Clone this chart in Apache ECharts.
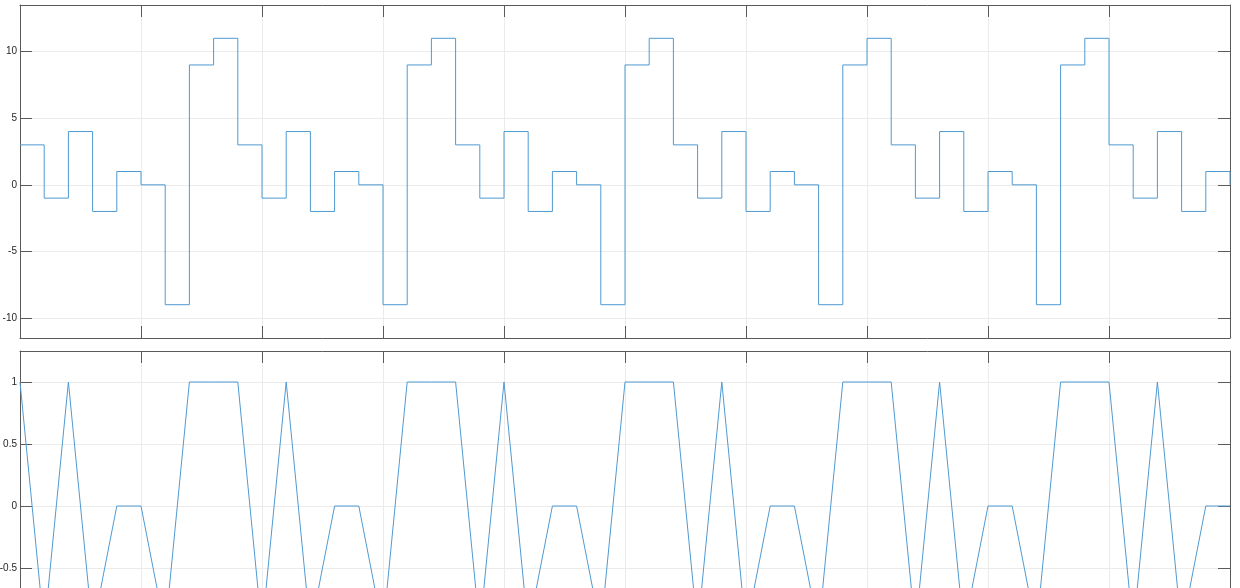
<!DOCTYPE html>
<html>
<head>
<meta charset="utf-8">
<script src="https://cdn.jsdelivr.net/npm/echarts@6/dist/echarts.min.js"></script>
<style>
html,body{margin:0;padding:0;background:#fff;}
#chart{width:1240px;height:588px;}
</style>
</head>
<body>
<div id="chart"></div>
<script>
// sample index (x positions)
var sampleIndex = [0,1,2,3,4,5,6,7,8,9,10,11,12,13,14,15,16,17,18,19,20,21,22,23,24,25,26,27,28,29,30,31,32,33,34,35,36,37,38,39,40,41,42,43,44,45,46,47,48,49,50];
// top panel: stairs signal
var topValues = [3,-1,4,-2,1,0,-9,9,11,
                 3,-1,4,-2,1,0,-9,9,11,
                 3,-1,4,-2,1,0,-9,9,11,
                 3,-1,4,-2,1,0,-9,9,11,
                 3,-1,4,-2,1,0,-9,9,11,
                 3,-1,4,-2,1,0];
// bottom panel: line signal
var bottomValues = [1,-1,1,-1,0,0,-1,1,1,
                    1,-1,1,-1,0,0,-1,1,1,
                    1,-1,1,-1,0,0,-1,1,1,
                    1,-1,1,-1,0,0,-1,1,1,
                    1,-1,1,-1,0,0,-1,1,1,
                    1,-1,1,-1,0,0];
var xTicks = [0,5,10,15,20,25,30,35,40,45,50];
var topRange = [-11.5, 13.5];
var bottomRange = [-1.25, 1.25];

function pairs(vals){ return vals.map(function(v,i){ return [sampleIndex[i], v]; }); }

var axisCol = '#5a5a5a';
var gridCol = '#ebebeb';
var lineCol = '#4f9ad2';
var lblStyle = {color:'#262626', fontSize:10, fontFamily:'Liberation Sans, Arial, sans-serif', margin:3};

function xAx(gi, pos){
  return {type:'value', gridIndex:gi, position:pos, min:xTicks[0], max:xTicks[xTicks.length-1], interval:5,
    axisLine:{show:true, onZero:false, lineStyle:{color:axisCol, width:1}},
    axisTick:{show:true, inside:true, length:12, lineStyle:{color:axisCol}},
    axisLabel:{show:false},
    splitLine:{show:pos==='bottom', lineStyle:{color:gridCol, width:1}}};
}
function yAx(gi, pos, range){
  return {type:'value', gridIndex:gi, position:pos, min:range[0], max:range[1], splitNumber:5,
    axisLine:{show:true, onZero:false, lineStyle:{color:axisCol, width:1}},
    axisTick:{show:true, inside:true, length:12, lineStyle:{color:axisCol}},
    axisLabel:Object.assign({show:pos==='left', showMinLabel:false, showMaxLabel:false}, lblStyle),
    splitLine:{show:pos==='left', lineStyle:{color:gridCol, width:1}}};
}

var chart = echarts.init(document.getElementById('chart'), null, {renderer:'canvas'});
chart.setOption({
  animation:false,
  backgroundColor:'#ffffff',
  grid:[
    {left:20, top:5, width:1210, height:333, containLabel:false, outerBoundsMode:'none'},
    {left:20, top:351, width:1210, height:310, containLabel:false, outerBoundsMode:'none'}
  ],
  xAxis:[xAx(0,'bottom'), xAx(0,'top'), xAx(1,'bottom'), xAx(1,'top')],
  yAxis:[yAx(0,'left',topRange), yAx(0,'right',topRange), yAx(1,'left',bottomRange), yAx(1,'right',bottomRange)],
  series:[
    {type:'line', xAxisIndex:0, yAxisIndex:0, step:'end', data:pairs(topValues), showSymbol:false, symbol:'none',
     lineStyle:{color:lineCol, width:1}, clip:true},
    {type:'line', xAxisIndex:2, yAxisIndex:2, data:pairs(bottomValues), showSymbol:false, symbol:'none',
     lineStyle:{color:lineCol, width:1}, clip:true}
  ]
});
</script>
</body>
</html>
